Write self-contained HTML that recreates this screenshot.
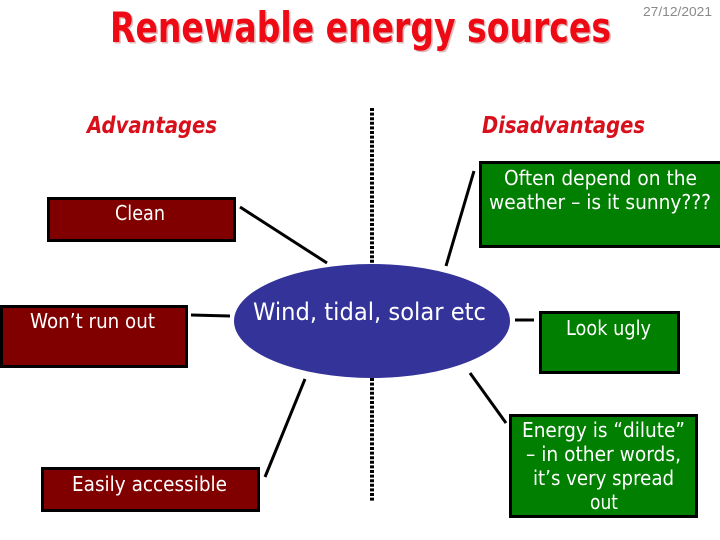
<!DOCTYPE html>
<html>
<head>
<meta charset="utf-8">
<style>
html,body{margin:0;padding:0;background:#fff;}
svg{display:block;}
text{font-family:"Comic Sans MS","DejaVu Sans",sans-serif;}
.w{fill:#fff;font-size:20px;}
</style>
</head>
<body>
<svg width="720" height="540" viewBox="0 0 720 540" xmlns="http://www.w3.org/2000/svg">
<rect width="720" height="540" fill="#fff"/>

<!-- Title -->
<text x="111.500" y="43.500" font-size="42" font-weight="bold" fill="#dcbcbc" textLength="501" lengthAdjust="spacingAndGlyphs">Renewable energy sources</text>
<text x="110" y="42" font-size="42" font-weight="bold" fill="#ee0a14" textLength="501" lengthAdjust="spacingAndGlyphs">Renewable energy sources</text>
<text x="643" y="16" style="font-family:'Liberation Sans',sans-serif" font-size="13" fill="#8a8a8a" textLength="69" lengthAdjust="spacingAndGlyphs">27/12/2021</text>

<text x="87" y="133" font-size="23" font-weight="bold" font-style="italic" fill="#d8101c" textLength="130" lengthAdjust="spacingAndGlyphs">Advantages</text>
<text x="482" y="133" font-size="23" font-weight="bold" font-style="italic" fill="#d8101c" textLength="163" lengthAdjust="spacingAndGlyphs">Disadvantages</text>

<!-- Dotted divider -->
<line x1="372" y1="108" x2="372" y2="265" stroke="#000" stroke-width="4" stroke-dasharray="3 1.6"/>
<line x1="372" y1="378" x2="372" y2="502" stroke="#000" stroke-width="4" stroke-dasharray="3 1.6"/>

<!-- Connectors -->
<g stroke="#000" stroke-width="3" fill="none">
<line x1="240" y1="207" x2="327" y2="263"/>
<line x1="191" y1="315" x2="230" y2="316"/>
<line x1="474" y1="171" x2="446" y2="266"/>
<line x1="515" y1="320" x2="534" y2="320"/>
<line x1="470" y1="373" x2="506" y2="423"/>
<line x1="305" y1="379" x2="265" y2="477"/>
</g>

<!-- Ellipse -->
<ellipse cx="372" cy="321" rx="138" ry="57" fill="#333399"/>
<text x="253" y="320" font-size="24" fill="#fff" textLength="233" lengthAdjust="spacingAndGlyphs">Wind, tidal, solar etc</text>

<!-- Left boxes -->
<g fill="#800000" stroke="#000" stroke-width="3">
<rect x="48.500" y="198.500" width="186" height="42"/>
<rect x="1.500" y="306.500" width="185" height="60"/>
<rect x="42.500" y="468.500" width="216" height="42"/>
</g>
<text class="w" x="115" y="220" textLength="50" lengthAdjust="spacingAndGlyphs">Clean</text>
<text class="w" x="30" y="328" textLength="125" lengthAdjust="spacingAndGlyphs">Won’t run out</text>
<text class="w" x="72" y="491" textLength="155" lengthAdjust="spacingAndGlyphs">Easily accessible</text>

<!-- Right boxes -->
<g fill="#007f00" stroke="#000" stroke-width="3">
<rect x="480.500" y="162.500" width="241" height="84"/>
<rect x="540.500" y="312.500" width="138" height="60"/>
<rect x="510.500" y="415.500" width="186" height="101"/>
</g>
<text class="w" x="504" y="185" textLength="193" lengthAdjust="spacingAndGlyphs">Often depend on the</text>
<text class="w" x="489" y="209" textLength="222" lengthAdjust="spacingAndGlyphs">weather – is it sunny???</text>
<text class="w" x="566" y="335" textLength="85" lengthAdjust="spacingAndGlyphs">Look ugly</text>
<text class="w" x="522" y="437" textLength="163" lengthAdjust="spacingAndGlyphs">Energy is “dilute”</text>
<text class="w" x="526" y="461" textLength="155" lengthAdjust="spacingAndGlyphs">– in other words,</text>
<text class="w" x="533" y="485" textLength="141" lengthAdjust="spacingAndGlyphs">it’s very spread</text>
<text class="w" x="590" y="509" textLength="28" lengthAdjust="spacingAndGlyphs">out</text>
</svg>
</body>
</html>
